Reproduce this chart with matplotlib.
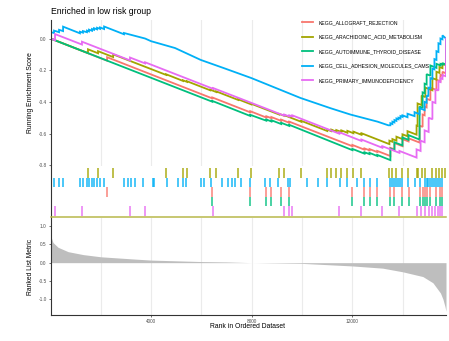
import matplotlib
matplotlib.use("Agg")
import matplotlib.pyplot as plt

plt.rcParams['font.family'] = ['Liberation Sans', 'DejaVu Sans']
plt.rcParams['axes.unicode_minus'] = False

# ---------------- data ----------------
title = "Enriched in low risk group"
gene_sets = ["KEGG_ALLOGRAFT_REJECTION", "KEGG_ARACHIDONIC_ACID_METABOLISM",
             "KEGG_AUTOIMMUNE_THYROID_DISEASE", "KEGG_CELL_ADHESION_MOLECULES_CAMS",
             "KEGG_PRIMARY_IMMUNODEFICIENCY"]
colors = ["#F8766D", "#A3A500", "#00BF7D", "#00B0F6", "#E76BF3"]
n_genes = 15720

# running enrichment score vertices (rank, score)
es_rank_allograft = [0, 2250, 2250, 6430, 6430, 7940, 7940, 8580, 8580, 8780, 8780, 9170, 9170,
                     9490, 9490, 12000, 12000, 12480, 12480, 12680, 12680, 12990, 12990,
                     13510, 13510, 13670, 13670, 13990, 13990, 14230, 14230, 14670, 14670,
                     14790, 14790, 14870, 14870, 14950, 14950, 15100, 15100, 15340, 15340,
                     15500, 15500, 15580, 15580, 15720, 15720]
es_score_allograft = [0.0, -0.14, -0.118, -0.378, -0.372, -0.466, -0.459, -0.499, -0.491,
                      -0.503, -0.496, -0.52, -0.512, -0.532, -0.525, -0.68, -0.672, -0.702,
                      -0.694, -0.706, -0.698, -0.717, -0.71, -0.742, -0.69, -0.70, -0.66,
                      -0.68, -0.635, -0.65, -0.63, -0.657, -0.55, -0.558, -0.48, -0.485,
                      -0.43, -0.435, -0.38, -0.39, -0.31, -0.325, -0.26, -0.27, -0.23,
                      -0.235, -0.21, -0.22, 0.0]

es_rank_arachidonic = [0, 1490, 1490, 1890, 1890, 2490, 2490, 4600, 4600, 5270, 5270, 5430, 5430,
                       6350, 6350, 6590, 6590, 7460, 7460, 7980, 7980, 9090, 9090, 9290, 9290,
                       9970, 9970, 11000, 11000, 11160, 11160, 11360, 11360, 11560, 11560,
                       11800, 11800, 12040, 12040, 12360, 12360, 13470, 13470, 13590, 13590,
                       13750, 13750, 13990, 13990, 14190, 14190, 14550, 14550, 14590, 14590,
                       14750, 14750, 14900, 14900, 15180, 15180, 15340, 15340, 15460, 15460,
                       15580, 15580, 15720, 15720]
es_score_arachidonic = [0.0, -0.092, -0.068, -0.093, -0.08, -0.117, -0.1, -0.23, -0.226,
                        -0.268, -0.264, -0.274, -0.27, -0.327, -0.323, -0.338, -0.334,
                        -0.388, -0.384, -0.416, -0.412, -0.48, -0.476, -0.488, -0.484,
                        -0.526, -0.52, -0.584, -0.575, -0.585, -0.575, -0.588, -0.578,
                        -0.59, -0.58, -0.595, -0.583, -0.598, -0.588, -0.608, -0.598,
                        -0.667, -0.645, -0.652, -0.635, -0.645, -0.62, -0.635, -0.605,
                        -0.617, -0.585, -0.607, -0.55, -0.552, -0.41, -0.42, -0.36, -0.37,
                        -0.31, -0.327, -0.25, -0.26, -0.21, -0.217, -0.18, -0.187, -0.16,
                        -0.169, 0.0]

es_rank_autoimmune = [0, 6430, 6430, 7940, 7940, 8580, 8580, 8780, 8780, 9170, 9170, 9490, 9490,
                      12000, 12000, 12480, 12480, 12680, 12680, 12990, 12990, 13510, 13510,
                      13670, 13670, 13990, 13990, 14230, 14230, 14670, 14670, 14790, 14790,
                      14870, 14870, 14950, 14950, 15100, 15100, 15340, 15340, 15500, 15500,
                      15580, 15580, 15720, 15720]
es_score_autoimmune = [0.0, -0.399, -0.394, -0.489, -0.482, -0.519, -0.511, -0.524, -0.516,
                       -0.54, -0.532, -0.552, -0.545, -0.705, -0.697, -0.727, -0.718, -0.73,
                       -0.722, -0.742, -0.735, -0.768, -0.695, -0.705, -0.655, -0.675,
                       -0.625, -0.64, -0.61, -0.638, -0.43, -0.438, -0.34, -0.345, -0.285,
                       -0.29, -0.225, -0.235, -0.17, -0.185, -0.16, -0.17, -0.16, -0.165,
                       -0.155, -0.165, 0.0]

es_rank_cams = [0, 20, 20, 140, 140, 340, 340, 500, 500, 1170, 1170, 1290, 1290, 1450, 1450,
                1530, 1530, 1650, 1650, 1730, 1730, 1850, 1850, 1970, 1970, 2130, 2130,
                2920, 2920, 3760, 4000, 4950, 5970, 6945, 7990, 9930, 11130, 11920, 13000,
                13430, 13510, 13510, 13590, 13590, 13670, 13670, 13750, 13750, 13830, 13830,
                13910, 13910, 13990, 13990, 14190, 14190, 14470, 14470, 14670, 14670,
                14870, 14870, 14950, 14950, 15020, 15020, 15100, 15100, 15180, 15180,
                15260, 15260, 15340, 15340, 15420, 15420, 15500, 15500, 15580, 15580, 15720]
es_score_cams = [0.0, 0.0, 0.04, 0.035, 0.05, 0.04, 0.055, 0.047, 0.075, 0.033, 0.043, 0.037,
                 0.047, 0.04, 0.05, 0.045, 0.056, 0.049, 0.06, 0.055, 0.065, 0.058, 0.068,
                 0.061, 0.07, 0.06, 0.076, 0.027, 0.035, 0.0, -0.017, -0.06, -0.135, -0.19,
                 -0.25, -0.375, -0.44, -0.48, -0.525, -0.548, -0.548, -0.535, -0.54, -0.525,
                 -0.53, -0.515, -0.52, -0.505, -0.51, -0.50, -0.505, -0.49, -0.495, -0.485,
                 -0.497, -0.475, -0.49, -0.465, -0.478, -0.44, -0.452, -0.40, -0.405, -0.36,
                 -0.365, -0.31, -0.315, -0.25, -0.255, -0.19, -0.195, -0.13, -0.135, -0.08,
                 -0.085, -0.03, -0.035, 0.0, -0.005, 0.02, 0.0]

es_rank_primary = [0, 180, 180, 1250, 1250, 3160, 3160, 3760, 3760, 6470, 6470, 9290, 9290,
                   9490, 9490, 9610, 9610, 11480, 11480, 12360, 12360, 13190, 13190, 13870,
                   13870, 14550, 14550, 14710, 14710, 14870, 14870, 15030, 15030, 15180, 15180,
                   15300, 15300, 15420, 15420, 15500, 15500, 15580, 15580, 15720, 15720]
es_score_primary = [0.0, -0.011, 0.028, -0.038, -0.02, -0.138, -0.12, -0.157, -0.15, -0.318,
                    -0.313, -0.487, -0.48, -0.492, -0.485, -0.492, -0.485, -0.601, -0.592,
                    -0.647, -0.638, -0.69, -0.68, -0.722, -0.71, -0.752, -0.70, -0.71,
                    -0.645, -0.655, -0.58, -0.59, -0.50, -0.51, -0.40, -0.407, -0.32, -0.328,
                    -0.27, -0.275, -0.25, -0.255, -0.23, -0.239, 0.0]

# hit positions (ranks) for the rug panel
hits_allograft = [2250, 6430, 7940, 8580, 8780, 9170, 9490, 12000, 12480, 12680, 12990, 13510,
                  13670, 13990, 14230, 14670, 14790, 14870, 14950, 15100, 15340, 15500, 15580]
hits_arachidonic = [1490, 1890, 2490, 4600, 5270, 5430, 6350, 6590, 7460, 7980, 9090, 9290,
                    9970, 11000, 11160, 11360, 11560, 11800, 12040, 12360, 13470, 13590, 13750,
                    13990, 14190, 14550, 14590, 14750, 14900, 15180, 15340, 15460, 15580, 15700]
hits_autoimmune = [6430, 7940, 8580, 8780, 9170, 9490, 12000, 12480, 12680, 12990, 13510,
                   13670, 13990, 14230, 14670, 14790, 14870, 14950, 15100, 15340, 15500, 15580]
hits_cams = [20, 140, 340, 500, 1170, 1290, 1450, 1530, 1650, 1730, 1850, 1970, 2130, 2920,
             3080, 3200, 3360, 3680, 4080, 4120, 4640, 5080, 5270, 5390, 5990, 6110, 6390,
             6830, 7060, 7220, 7340, 7580, 7940, 8540, 8740, 9050, 9450, 9530, 10210, 10650,
             11000, 11520, 11800, 12200, 12480, 12680, 12990, 13510, 13590, 13670, 13750,
             13830, 13910, 13990, 14190, 14470, 14670, 14870, 14950, 15020, 15100, 15180,
             15260, 15340, 15420, 15500, 15580]
hits_primary = [180, 1250, 3160, 3760, 6470, 9290, 9490, 9610, 11480, 12360, 13190, 13870,
                14550, 14710, 14870, 15030, 15180, 15300, 15420, 15500, 15580]

# ranked list metric samples (rank, metric)
metric_rank = [0, 100, 300, 700, 1300, 2000, 3300, 4000, 6000, 7000, 8000, 10000, 12000,
               13200, 14000, 14800, 15200, 15500, 15600, 15680, 15720]
metric_value = [0.75, 0.55, 0.42, 0.3, 0.22, 0.16, 0.1, 0.07, 0.03, 0.02, 0.0, -0.02, -0.09,
                -0.15, -0.25, -0.38, -0.55, -0.83, -1.0, -1.2, -1.33]

x_ticks = [4000, 8000, 12000]
es_ticks = [0.0, -0.2, -0.4, -0.6, -0.8]
metric_ticks = [1.0, 0.5, 0.0, -0.5, -1.0]

curves = [(es_rank_allograft, es_score_allograft), (es_rank_arachidonic, es_score_arachidonic),
          (es_rank_autoimmune, es_score_autoimmune), (es_rank_cams, es_score_cams),
          (es_rank_primary, es_score_primary)]
hits = [hits_allograft, hits_arachidonic, hits_autoimmune, hits_cams, hits_primary]
# rug row order from top: arachidonic, cams, allograft, autoimmune, primary
rug_row = [2, 0, 3, 1, 4]

# ---------------- figure ----------------
W, H = 449, 341
fig = plt.figure(figsize=(W / 100, H / 100), dpi=100)
L = 50.5 / W
AW = (446 - 50.5) / W
ax1 = fig.add_axes([L, 1 - 166 / H, AW, (166 - 20) / H])
ax2 = fig.add_axes([L, 1 - 216.5 / H, AW, (216.5 - 166) / H])
ax3 = fig.add_axes([L, 1 - 315 / H, AW, (315 - 218) / H])

axis_col = "#333333"
tick_col = "#4D4D4D"
grid_col = "#EBEBEB"
grid_x = list(range(2000, n_genes, 2000))

for ax in (ax1, ax2, ax3):
    ax.set_xlim(0, n_genes)
    for s in ("top", "right"):
        ax.spines[s].set_visible(False)
    ax.spines["left"].set_color(axis_col)
    ax.spines["left"].set_linewidth(0.8)

# top panel
for gx in grid_x:
    ax1.axvline(gx, color=grid_col, lw=0.8, zorder=0)
for (r, s), c, name in zip(curves, colors, gene_sets):
    ax1.plot(r, s, color=c, lw=1.3, label=name, solid_joinstyle="miter")
ax1.set_ylim(-0.805, 0.117)
ax1.spines["bottom"].set_visible(False)
ax1.set_xticks([])
ax1.set_yticks(es_ticks)
ax1.set_yticklabels([f"{v:.1f}" for v in es_ticks])
ax1.tick_params(axis="y", labelsize=3.4, colors=axis_col, labelcolor=tick_col,
                length=1.6, width=0.5, pad=1.2)
leg = ax1.legend(loc="upper left", bbox_to_anchor=(302 / W, 1 - 20 / H),
                 bbox_transform=fig.transFigure, frameon=False, fontsize=3.7,
                 handlelength=2.15, handletextpad=1.15, labelspacing=1.86,
                 borderpad=0, borderaxespad=0)
for ln in leg.get_lines():
    ln.set_linewidth(1.3)

# middle (rug) panel
for h, c, row in zip(hits, colors, rug_row):
    ax2.vlines(h, 4 - row, 5 - row, color=c, lw=1.1, alpha=0.9)
ax2.set_ylim(-0.05, 5.2)
ax2.set_xticks([])
ax2.set_yticks([])
ax2.spines["bottom"].set_color("#B8B84A")
ax2.spines["bottom"].set_linewidth(1.1)

# bottom panel
for gx in grid_x:
    ax3.axvline(gx, color=grid_col, lw=0.8, zorder=0)
ax3.fill_between(metric_rank, metric_value, 0, color="#BEBEBE", lw=0, zorder=2)
ax3.set_ylim(-1.43, 1.22)
ax3.set_yticks(metric_ticks)
ax3.set_yticklabels([f"{v:.1f}" for v in metric_ticks])
ax3.set_xticks(x_ticks)
ax3.set_xticklabels([str(v) for v in x_ticks])
ax3.spines["bottom"].set_color(axis_col)
ax3.spines["bottom"].set_linewidth(0.8)
ax3.tick_params(axis="both", labelsize=3.4, colors=axis_col, labelcolor=tick_col,
                length=1.6, width=0.5, pad=1.2)

# texts
fig.text(51 / W, 1 - 12 / H, title, fontsize=6.2, ha="left", va="center")
fig.text(31 / W, 1 - 93 / H, "Running Enrichment Score", fontsize=4.9, rotation=90,
         ha="center", va="center")
fig.text(31 / W, 1 - 266.5 / H, "Ranked List Metric", fontsize=4.9, rotation=90,
         ha="center", va="center")
fig.text(248 / W, 1 - 327 / H, "Rank in Ordered Dataset", fontsize=4.9,
         ha="center", va="center")

fig.savefig("out.png", dpi=100, facecolor="white")
